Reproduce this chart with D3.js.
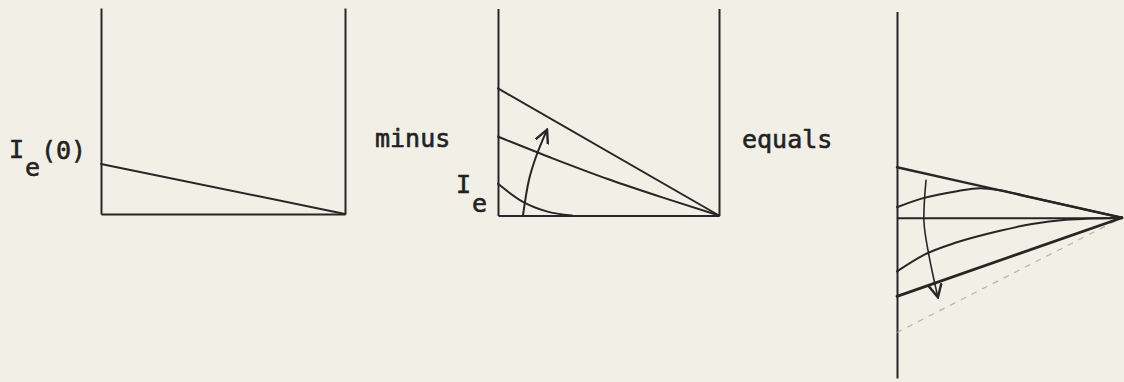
<!DOCTYPE html>
<html>
<head>
<meta charset="utf-8">
<script src="https://cdn.jsdelivr.net/npm/d3@7"></script>
<style>
  html, body { margin: 0; padding: 0; background: #f2efe6; }
  svg { display: block; }
  text { font-family: "DejaVu Sans Mono", "Liberation Mono", monospace; font-size: 25px; fill: #222; stroke: #222; stroke-width: 0.6px; }
</style>
</head>
<body>
<svg id="chart" width="1124" height="382"></svg>
<script>
// ---- data (x: normalised position 0..1, y: intensity in arbitrary units) ----
// left panel: the reference intensity I_e(0)
const ie0X = [0, 1];
const ie0Y = [2.43, 0];

// middle panel: family of I_e profiles
const ieHighX = [0, 1];
const ieHighY = [6.14, 0];
const ieMidX = [0, 0.25, 0.5, 0.75, 1];
const ieMidY = [3.81, 2.75, 1.75, 0.85, 0];
const ieLowX = [0, 0.113, 0.22, 0.335];
const ieLowY = [1.53, 0.66, 0.2, 0];

// right panel: differences I_e(0) - I_e
const diffTopX = [0, 1];
const diffTopY = [2.45, 0];
const diffUpX = [0, 0.116, 0.267, 0.369, 0.45, 0.6, 1];
const diffUpY = [0.51, 0.95, 1.29, 1.43, 1.35, 0.98, 0];
const diffDownX = [0, 0.116, 0.267, 0.458, 0.6, 0.75, 1];
const diffDownY = [-2.6, -1.82, -1.19, -0.63, -0.3, -0.1, 0];
const diffLowX = [0, 1];
const diffLowY = [-3.81, 0];
const diffFaintX = [0, 1];
const diffFaintY = [-5.56, 0];

// direction arrows
const riseArrowX = [0.113, 0.14, 0.172, 0.222];
const riseArrowY = [0, 1.72, 2.84, 4.15];
const fallArrowX = [0.129, 0.12, 0.142, 0.182];
const fallArrowY = [1.82, -0.22, -1.82, -3.86];

// labels
const labelIe = "I";
const labelSub = "e";
const labelZero = "(0)";
const labelMinus = "minus";
const labelEquals = "equals";

// ---- drawing ----
const svg = d3.select("#chart");
const ink = "#262626";

const defs = svg.append("defs");
function arrowMarker(id, size, width) {
  defs.append("marker")
    .attr("id", id)
    .attr("viewBox", "0 0 10 10")
    .attr("refX", 9).attr("refY", 5)
    .attr("markerUnits", "userSpaceOnUse")
    .attr("markerWidth", size).attr("markerHeight", size)
    .attr("orient", "auto")
    .append("path")
    .attr("d", "M0,0.5 L9,5 L0,9.5")
    .attr("fill", "none")
    .attr("stroke", ink)
    .attr("stroke-width", width)
    .attr("stroke-linejoin", "miter");
}
arrowMarker("headRise", 15, 1.6);
arrowMarker("headFall", 15, 1.6);

function zip(xs, ys) { return xs.map((x, i) => [x, ys[i]]); }

function makePanel(cfg) {
  const x = d3.scaleLinear().domain([0, 1]).range([cfg.left, cfg.right]);
  const y = d3.scaleLinear().domain(cfg.yDomain).range([cfg.bottom, cfg.top]);
  const g = svg.append("g");
  return { x, y, g };
}

function styleAxis(sel, w) {
  sel.selectAll(".domain").attr("stroke", ink).attr("stroke-width", w);
  sel.selectAll(".tick").remove();
}

function drawSeries(p, xs, ys, curve, opts) {
  const line = d3.line().x(d => p.x(d[0])).y(d => p.y(d[1])).curve(curve);
  const path = p.g.append("path")
    .datum(zip(xs, ys))
    .attr("d", line)
    .attr("fill", "none")
    .attr("stroke", opts.color || ink)
    .attr("stroke-width", opts.width || 2)
    .attr("stroke-linecap", "round")
    .attr("stroke-linejoin", "round");
  if (opts.dash) path.attr("stroke-dasharray", opts.dash);
  if (opts.marker) path.attr("marker-end", "url(#" + opts.marker + ")");
  if (opts.opacity) path.attr("opacity", opts.opacity);
  return path;
}

function frame(p, cfg, withRight) {
  const left = d3.axisLeft(p.y).tickValues([]).tickSizeOuter(0);
  p.g.append("g").attr("transform", `translate(${cfg.left},0)`).call(left).call(s => styleAxis(s, 2));
  if (withRight) {
    const right = d3.axisRight(p.y).tickValues([]).tickSizeOuter(0);
    p.g.append("g").attr("transform", `translate(${cfg.right},0)`).call(right).call(s => styleAxis(s, 2));
  }
  const bottom = d3.axisBottom(p.x).tickValues([]).tickSizeOuter(0);
  p.g.append("g").attr("transform", `translate(0,${p.y(0)})`).call(bottom).call(s => styleAxis(s, 2));
}

// left panel
const cfg1 = { left: 101, right: 345, top: 8, bottom: 214, yDomain: [0, 10] };
const p1 = makePanel(cfg1);
frame(p1, cfg1, true);
drawSeries(p1, ie0X, ie0Y, d3.curveLinear, { width: 2 });

// middle panel
const cfg2 = { left: 498, right: 719, top: 8.5, bottom: 215.5, yDomain: [0, 10] };
const p2 = makePanel(cfg2);
frame(p2, cfg2, true);
drawSeries(p2, ieHighX, ieHighY, d3.curveLinear, { width: 2 });
drawSeries(p2, ieMidX, ieMidY, d3.curveMonotoneX, { width: 2 });
drawSeries(p2, ieLowX, ieLowY, d3.curveMonotoneX, { width: 2 });
drawSeries(p2, riseArrowX, riseArrowY, d3.curveCatmullRom, { width: 2, marker: "headRise" });

// right panel
const cfg3 = { left: 897, right: 1122, top: 11.5, bottom: 378, yDomain: [-7.77, 10] };
const p3 = makePanel(cfg3);
frame(p3, cfg3, false);
drawSeries(p3, diffFaintX, diffFaintY, d3.curveLinear, { width: 1.2, color: "#a9a59b", dash: "5,7", opacity: 0.8 });
drawSeries(p3, diffTopX, diffTopY, d3.curveLinear, { width: 2.4 });
drawSeries(p3, diffUpX, diffUpY, d3.curveMonotoneX, { width: 2 });
drawSeries(p3, diffDownX, diffDownY, d3.curveMonotoneX, { width: 2 });
drawSeries(p3, diffLowX, diffLowY, d3.curveLinear, { width: 2.8 });
drawSeries(p3, fallArrowX, fallArrowY, d3.curveCatmullRom, { width: 1.6, marker: "headFall" });

// labels
function label(str, x, y) {
  return svg.append("text").attr("x", x).attr("y", y).text(str);
}
label(labelIe, 9, 158);
label(labelSub, 25, 176);
label(labelZero, 41, 159);
label(labelMinus, 375, 147);
label(labelIe, 456, 193);
label(labelSub, 472, 212);
label(labelEquals, 742, 148);
</script>
</body>
</html>
